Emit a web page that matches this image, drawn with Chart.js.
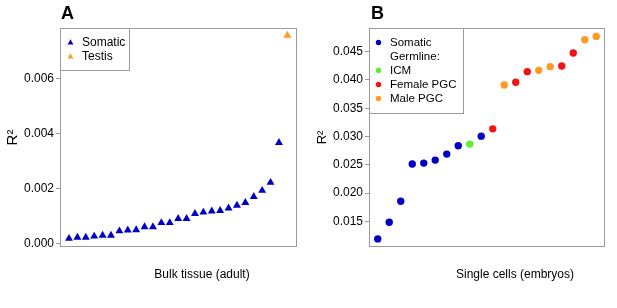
<!DOCTYPE html>
<html><head><meta charset="utf-8">
<script src="https://cdn.jsdelivr.net/npm/chart.js@4"></script>
<style>
body{margin:0;background:#fff;width:617px;height:308px;position:relative;overflow:hidden}
.p{position:absolute;top:0;height:308px}
</style></head><body>
<div class="p" style="left:0;width:308px"><canvas id="a" width="308" height="308"></canvas></div>
<div class="p" style="left:308px;width:309px"><canvas id="b" width="309" height="308"></canvas></div>
<script>
// ---- Data ----
const somaticA = [0.00020,0.00024,0.00024,0.00028,0.00031,0.00031,0.00047,0.00050,0.00051,0.00062,0.00062,0.00077,0.00077,0.00092,0.00092,0.00110,0.00115,0.00119,0.00121,0.00130,0.00140,0.00150,0.00172,0.00194,0.00223,0.00368];
const testisA = [0.00757];
const ticksA = [0, 0.002, 0.004, 0.006];
const legendA = ['Somatic', 'Testis'];
const xTitleA = 'Bulk tissue (adult)';

const valuesB = [0.01188,0.01482,0.01853,0.02512,0.02529,0.02582,0.02688,0.02835,0.02865,0.03006,0.03135,0.03912,0.03959,0.04147,0.04170,0.04235,0.04247,0.04476,0.04712,0.04770];
const groupsB = ['Somatic','Somatic','Somatic','Somatic','Somatic','Somatic','Somatic','Somatic','ICM','Somatic','Female PGC','Male PGC','Female PGC','Female PGC','Male PGC','Male PGC','Female PGC','Female PGC','Male PGC','Male PGC'];
const ticksB = [0.015, 0.020, 0.025, 0.030, 0.035, 0.040, 0.045];
const legendB = ['Somatic', 'Germline:', 'ICM', 'Female PGC', 'Male PGC'];
const xTitleB = 'Single cells (embryos)';
const yTitle = 'R\u00B2';

// ---- Styles ----
const COL = {'Somatic':'#0000c4','Testis':'#ff9a22','ICM':'#5ef030','Female PGC':'#f01414','Male PGC':'#ff9a22'};
const FRAME = '#9a9a9a';
const FONT = '"Liberation Sans", Arial, sans-serif';

function decorPlugin(cfg){
  return {
    id:'decor',
    afterDraw(chart){
      const ctx = chart.ctx, a = chart.chartArea;
      ctx.save();
      ctx.strokeStyle = FRAME; ctx.lineWidth = 1;
      ctx.strokeRect(Math.round(a.left)+0.5, Math.round(a.top)+0.5, Math.round(a.right-a.left)-1, Math.round(a.bottom-a.top)-1);
      // panel letter
      ctx.fillStyle = '#000';
      ctx.font = 'bold 18px ' + FONT;
      ctx.textBaseline = 'alphabetic'; ctx.textAlign = 'left';
      ctx.fillText(cfg.letter, cfg.letterX, 19);
      // x title
      ctx.font = '12px ' + FONT; ctx.textAlign = 'center'; ctx.textBaseline = 'middle';
      ctx.fillText(cfg.xTitle, cfg.xTitleX, 275);
      // legend box
      const L = cfg.legend;
      ctx.fillStyle = '#fff';
      ctx.fillRect(L.x, L.y, L.w, L.h);
      ctx.strokeStyle = FRAME;
      ctx.strokeRect(L.x+0.5, L.y+0.5, L.w-1, L.h-1);
      ctx.font = L.font + 'px ' + FONT; ctx.textAlign = 'left'; ctx.textBaseline = 'middle';
      L.items.forEach((lab, i) => {
        const y = L.y0 + i * L.dy;
        const c = COL[lab];
        if (c && lab !== 'Germline:') {
          ctx.fillStyle = c;
          ctx.beginPath();
          if (L.shape === 'triangle') {
            const r = 3.2;
            ctx.moveTo(L.mx, y - r);
            ctx.lineTo(L.mx + r*0.9, y + r*0.6);
            ctx.lineTo(L.mx - r*0.9, y + r*0.6);
            ctx.closePath();
          } else {
            ctx.arc(L.mx, y, 2.7, 0, Math.PI*2);
          }
          ctx.fill();
        }
        ctx.fillStyle = '#000';
        ctx.fillText(lab, L.tx, y + 0.5);
      });
      ctx.restore();
    }
  };
}

function yScale(min, max, ticks, width, titleSize, titlePad){
  return {
    type:'linear', min:min, max:max,
    afterBuildTicks(s){ s.ticks = ticks.map(v => ({value:v})); },
    afterFit(s){ s.width = width; },
    grid:{display:true, drawOnChartArea:false, drawTicks:true, tickLength:4, color:FRAME},
    border:{display:false},
    ticks:{color:'#000', padding:2, font:{family:FONT, size:12}, callback:v => Number(v).toFixed(3)},
    title:{display:true, text:yTitle, color:'#000', font:{family:FONT, size:titleSize}, padding:{top:titlePad, bottom:0}}
  };
}
function xScale(min, max){
  return {
    type:'linear', min:min, max:max,
    grid:{display:false, drawTicks:false},
    border:{display:false},
    ticks:{display:false},
    afterFit(s){ s.height = 61; }
  };
}

// ---- Chart A ----
new Chart(document.getElementById('a'), {
  type:'scatter',
  data:{datasets:[
    {label:legendA[0], data:somaticA.map((v,i)=>({x:i+1, y:v})), pointStyle:'triangle', pointRadius:4.6, backgroundColor:COL['Somatic'], borderWidth:0},
    {label:legendA[1], data:testisA.map((v,i)=>({x:somaticA.length+1+i, y:v})), pointStyle:'triangle', pointRadius:4.6, backgroundColor:COL['Testis'], borderWidth:0}
  ]},
  options:{
    responsive:false, animation:false, devicePixelRatio:1,
    layout:{padding:{left:0, top:28, right:11, bottom:0}},
    plugins:{legend:{display:false}, tooltip:{enabled:false}},
    scales:{
      x:xScale(-0.07, 28.15),
      y:yScale(-0.000109, 0.00784, ticksA, 60, 15, 4)
    }
  },
  plugins:[decorPlugin({letter:'A', letterX:61, xTitle:xTitleA, xTitleX:202,
    legend:{x:60, y:28, w:70, h:43, font:12, items:legendA, y0:42.5, dy:14, mx:70.5, tx:82, shape:'triangle'}})]
});

// ---- Chart B ----
const groupOrder = ['Somatic','ICM','Female PGC','Male PGC'];
new Chart(document.getElementById('b'), {
  type:'scatter',
  data:{datasets: groupOrder.map(g => ({
    label:g,
    data: valuesB.map((v,i)=>({x:i+1, y:v, g:groupsB[i]})).filter(p => p.g === g),
    pointStyle:'circle', pointRadius:3.7, backgroundColor:COL[g], borderWidth:0
  }))},
  options:{
    responsive:false, animation:false, devicePixelRatio:1,
    layout:{padding:{left:0, top:28, right:12, bottom:0}},
    plugins:{legend:{display:false}, tooltip:{enabled:false}},
    scales:{
      x:xScale(0.24, 20.76),
      y:yScale(0.01045, 0.04919, ticksB, 61, 13, 7)
    }
  },
  plugins:[decorPlugin({letter:'B', letterX:63, xTitle:xTitleB, xTitleX:207,
    legend:{x:61, y:28, w:95, h:86, font:11.5, items:legendB, y0:42.5, dy:14, mx:70.5, tx:82, shape:'circle'}})]
});
</script>
</body></html>
